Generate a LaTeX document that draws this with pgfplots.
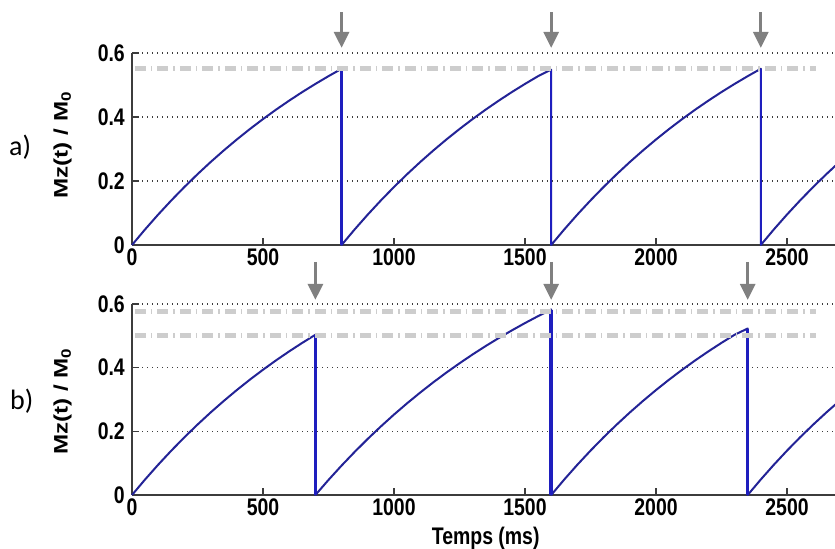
\documentclass[border=0pt]{standalone}
\usepackage{fontspec}
\usepackage{pgfplots}
\pgfplotsset{compat=1.18}
\usetikzlibrary{arrows.meta}
\setmainfont{Liberation Sans}
\newfontfamily\tickfont[FakeStretch=0.81]{Liberation Sans}
\newfontfamily\labfont[FakeStretch=1.24]{Liberation Sans}
\newfontfamily\panelfont{Carlito}

\definecolor{curve}{RGB}{35,35,150}
\definecolor{drop}{RGB}{30,30,190}
\definecolor{arrowgray}{RGB}{128,128,128}
\definecolor{refgray}{RGB}{205,205,205}
\definecolor{axisgray}{RGB}{60,60,60}

\pgfplotsset{mrplot/.style={
    scale only axis, width=707.4bp, height=192bp,
    xmin=0, xmax=2700, ymin=0, ymax=0.6,
    axis x line=bottom, axis y line=left,
    axis line style={-, axisgray, line width=1.3bp},
    tick align=inside, major tick length=7bp,
    tick style={axisgray, line width=1.2bp},
    xtick={0,500,1000,1500,2000,2500},
    ytick={0,0.2,0.4,0.6},
    ymajorgrids,
    grid style={axisgray, line width=1.2bp, dash pattern=on 1.2bp off 3.8bp},
    clip=false, scaled ticks=false,
    /pgf/number format/1000 sep={},
    /pgf/number format/assume math mode=true,
    ticklabel style={font=\tickfont\bfseries\fontsize{24bp}{26bp}\selectfont, inner sep=0pt},
    xticklabel style={yshift=-4bp},
    yticklabel style={xshift=-7bp},
    ylabel={\labfont\bfseries\fontsize{19.5bp}{20bp}\selectfont Mz(t) / M\textsubscript{0}},
    ylabel style={anchor=south, inner sep=0pt},
    every axis plot/.append style={line join=round},
  },
  refline/.style={refgray, line width=5bp, dash pattern=on 11bp off 5bp on 1.5bp off 5bp},
  pulse/.style={arrowgray, line width=3bp, -{Triangle[length=16bp,width=15bp]}},
}

\begin{document}
\begin{tikzpicture}

% a) constant TR = 800 ms
\begin{axis}[mrplot, at={(132bp,304bp)}, anchor=south west,
    ylabel style={at={(axis description cs:-0.0849,0.52)}}]
\addplot[curve, line width=2bp] coordinates {
(0,0) (50,0.0488) (100,0.0952) (150,0.1393) (200,0.1813) (250,0.2212) (300,0.2592)
(350,0.2953) (400,0.3297) (450,0.3624) (500,0.3935) (550,0.4231) (600,0.4512)
(650,0.4780) (700,0.5034) (750,0.5276) (800,0.5507) (800,0)
(850,0.0488) (900,0.0952) (950,0.1393) (1000,0.1813) (1050,0.2212) (1100,0.2592)
(1150,0.2953) (1200,0.3297) (1250,0.3624) (1300,0.3935) (1350,0.4231) (1400,0.4512)
(1450,0.4780) (1500,0.5034) (1550,0.5276) (1600,0.5480) (1600,0)
(1650,0.0488) (1700,0.0952) (1750,0.1393) (1800,0.1813) (1850,0.2212) (1900,0.2592)
(1950,0.2953) (2000,0.3297) (2050,0.3624) (2100,0.3935) (2150,0.4231) (2200,0.4512)
(2250,0.4780) (2300,0.5034) (2350,0.5276) (2400,0.5507) (2400,0)
(2450,0.0488) (2500,0.0952) (2550,0.1393) (2600,0.1813) (2650,0.2212) (2700,0.2592)
};
\addplot[drop, line width=3.5bp] coordinates {(800,0.5507) (800,0)};
\addplot[drop, line width=2.5bp] coordinates {(1600,0.5480) (1600,0)};
\addplot[drop, line width=2.5bp] coordinates {(2400,0.5507) (2400,0)};
\addplot[refline] coordinates {(11,0.55) (2610,0.55)};
\addplot[pulse, quiver={u=0, v=-0.112}] coordinates {(800,0.728) (1600,0.728) (2400,0.728)};
\end{axis}

% b) variable TR
\begin{axis}[mrplot, at={(132bp,54bp)}, anchor=south west, height=191bp,
    ylabel style={at={(axis description cs:-0.0849,0.49)}},
    xlabel={\tickfont\bfseries\fontsize{24bp}{26bp}\selectfont Temps (ms)},
    xlabel style={at={(axis description cs:0.5,0)}, anchor=north, inner sep=0pt, yshift=-32bp}]
\addplot[curve, line width=2bp] coordinates {
(0,0) (50,0.0488) (100,0.0952) (150,0.1393) (200,0.1813) (250,0.2212) (300,0.2592)
(350,0.2953) (400,0.3297) (450,0.3624) (500,0.3935) (550,0.4231) (600,0.4512)
(650,0.4780) (700,0.5034) (700,0)
(750,0.0474) (800,0.0925) (850,0.1355) (900,0.1765) (950,0.2155) (1000,0.2527)
(1050,0.2881) (1100,0.3218) (1150,0.3540) (1200,0.3846) (1250,0.4137) (1300,0.4415)
(1350,0.4680) (1400,0.4932) (1450,0.5172) (1500,0.5401) (1550,0.5619) (1600,0.5826) (1600,0)
(1650,0.0488) (1700,0.0952) (1750,0.1393) (1800,0.1813) (1850,0.2212) (1900,0.2592)
(1950,0.2953) (2000,0.3297) (2050,0.3624) (2100,0.3935) (2150,0.4231) (2200,0.4512)
(2250,0.4780) (2300,0.5034) (2350,0.5230) (2350,0)
(2400,0.0488) (2450,0.0952) (2500,0.1393) (2550,0.1813) (2600,0.2212) (2650,0.2592) (2700,0.2953)
};
\addplot[drop, line width=3bp] coordinates {(700,0.5034) (700,0)};
\addplot[drop, line width=3.5bp] coordinates {(1600,0.5826) (1600,0)};
\addplot[drop, line width=3.5bp] coordinates {(2350,0.5230) (2350,0)};
\addplot[refline] coordinates {(11,0.578) (2610,0.578)};
\addplot[refline] coordinates {(11,0.50) (2610,0.50)};
\addplot[pulse, quiver={u=0, v=-0.119}] coordinates {(700,0.732) (1600,0.732) (2350,0.732)};
\end{axis}

\node[font=\panelfont\fontsize{28bp}{30bp}\selectfont, anchor=west, inner sep=0pt] at (9bp,402bp) {a)};
\node[font=\panelfont\fontsize{28bp}{30bp}\selectfont, anchor=west, inner sep=0pt] at (10bp,148bp) {b)};

\pgfresetboundingbox
\path[use as bounding box] (0,0) rectangle (835bp,549bp);
\end{tikzpicture}
\end{document}
